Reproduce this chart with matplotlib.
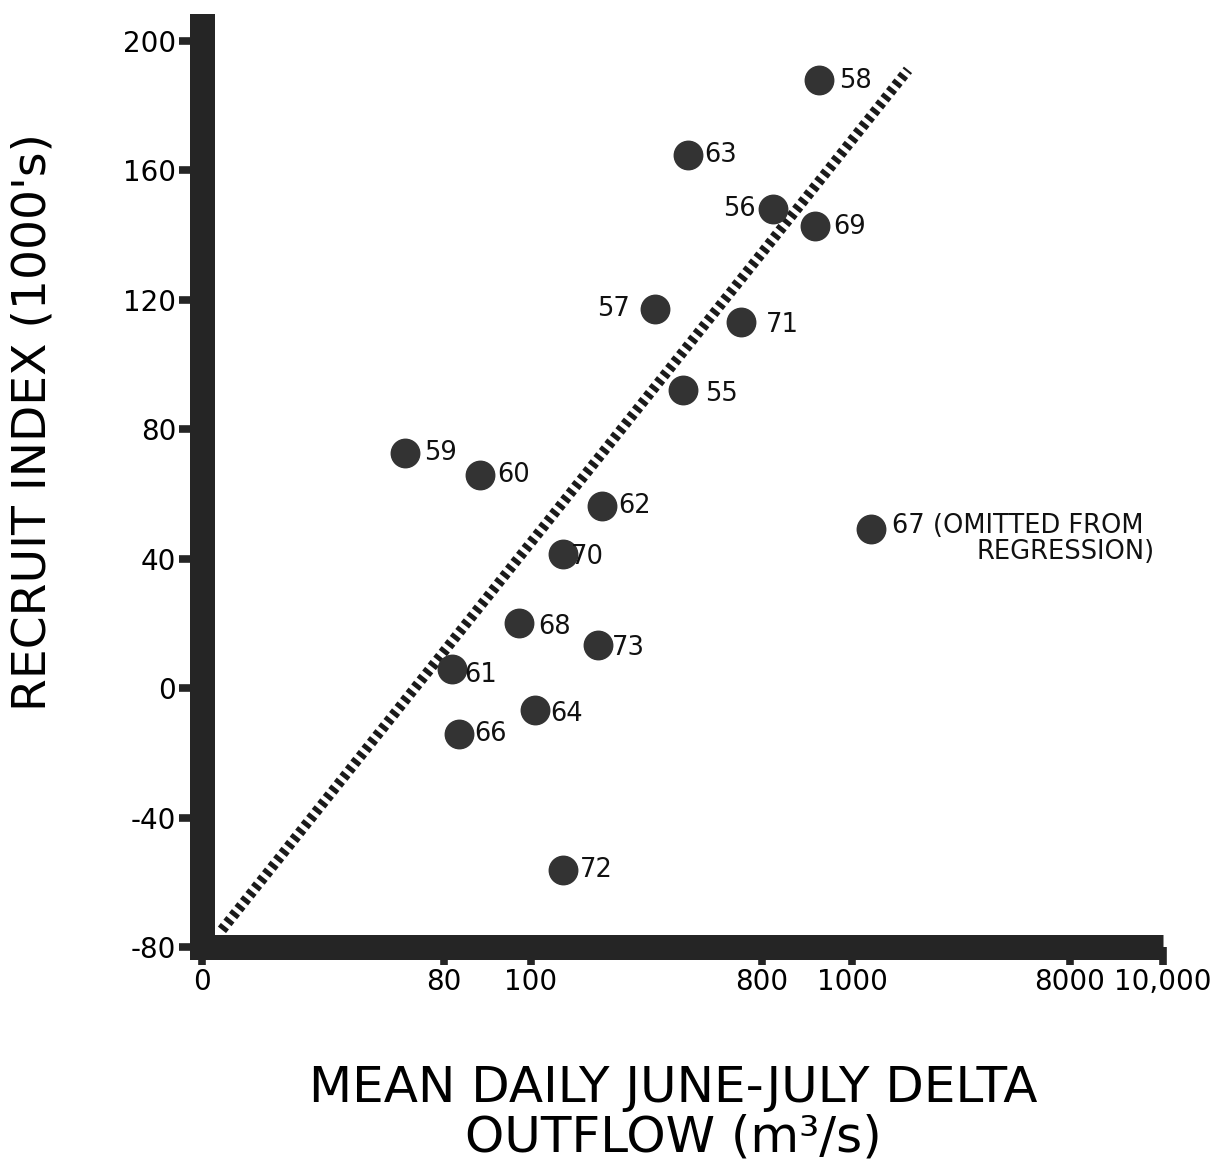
# Recruit index vs mean daily June-July delta outflow
import numpy as np
import matplotlib.pyplot as plt

# data
years = ["55", "56", "57", "58", "59", "60", "61", "62", "63",
         "64", "66", "68", "69", "70", "71", "72", "73"]
outflow = [561, 824, 476, 927, 67.1, 88.3, 81.8, 315, 576,
           112, 83.4, 97.2, 918, 197, 736, 197, 303]
recruit = [92.1, 148.1, 117.2, 187.9, 72.7, 65.9, 5.9, 56.3, 164.7,
           -6.8, -14.2, 20.1, 142.8, 41.4, 113.1, -56.2, 13.3]

# 1967 point, left out of the regression
omit_year = "67"
omit_flow = 1610
omit_recruit = 49.2

# regression line end points
reg_x = [6.6, 2798]
reg_y = [-74.7, 191.0]

xtick_vals = [0, 80, 100, 800, 1000, 8000, 10000]
xtick_labels = ["0", "80", "100", "800", "1000", "8000", "10,000"]
ytick_vals = [-80, -40, 0, 40, 80, 120, 160, 200]

# the hand drawn axis is not a true log axis, so map tick values piecewise
xtick_pos = [0, 242, 329, 560, 650, 868, 961]


def fwd(x):
    return np.interp(x, xtick_vals, xtick_pos)


def inv(u):
    return np.interp(u, xtick_pos, xtick_vals)


# label offsets in points (dx, dy, ha)
offsets = {
    "55": (16, -3, "left"), "56": (-12, 0, "right"), "57": (-18, 0, "right"),
    "58": (14, -1, "left"), "59": (14, 0, "left"), "60": (12, 0, "left"),
    "61": (9, -4, "left"), "62": (12, 0, "left"), "63": (12, 0, "left"),
    "64": (11, -3, "left"), "66": (11, 0, "left"), "68": (14, -3, "left"),
    "69": (13, -1, "left"), "70": (6, -2, "left"), "71": (18, -2, "left"),
    "72": (12, 0, "left"), "73": (10, -2, "left"),
}

ink = "#252525"
dot = "#333333"

fig = plt.figure(figsize=(12.22, 11.68), dpi=100)
ax = fig.add_axes([202 / 1222, 1 - 947 / 1168, 961 / 1222, 920.5 / 1168])

ax.set_xscale("function", functions=(fwd, inv))
ax.set_xlim(0, 10000)
ax.set_ylim(-80, 204.4)

ax.plot(reg_x, reg_y, color="#1a1a1a", lw=7.5, dashes=(0.45, 0.4),
        solid_capstyle="butt", zorder=2)

ax.plot(outflow, recruit, "o", ms=20.5, color=dot, mec=dot, zorder=3)
ax.plot([omit_flow], [omit_recruit], "o", ms=20.5, color=dot, mec=dot, zorder=3)

for yr, x, y in zip(years, outflow, recruit):
    dx, dy, ha = offsets[yr]
    ax.annotate(yr, (x, y), xytext=(dx, dy), textcoords="offset points",
                ha=ha, va="center", fontsize=18.5, color="#111111")

ax.annotate(omit_year + " (OMITTED FROM", (omit_flow, omit_recruit),
            xytext=(15, 2), textcoords="offset points",
            ha="left", va="center", fontsize=18.5, color="#111111")
ax.annotate("REGRESSION)", (omit_flow, omit_recruit),
            xytext=(76, -17), textcoords="offset points",
            ha="left", va="center", fontsize=18.5, color="#111111")

# heavy axis bars
for side in ["top", "right"]:
    ax.spines[side].set_visible(False)
for side in ["left", "bottom"]:
    ax.spines[side].set_linewidth(18)
    ax.spines[side].set_color(ink)
ax.spines["left"].set_capstyle("projecting")
ax.spines["bottom"].set_capstyle("butt")

ax.set_xticks(xtick_vals)
ax.set_xticklabels(xtick_labels)
ax.set_yticks(ytick_vals)
ax.set_yticklabels([str(v) for v in ytick_vals])
ax.xaxis.set_minor_locator(plt.NullLocator())
ax.tick_params(axis="y", direction="out", length=16.5, width=5.5,
               color=ink, labelsize=20, pad=2)
ax.tick_params(axis="x", direction="out", length=13, width=5.5,
               color=ink, labelsize=20, pad=2)

ax.set_ylabel("RECRUIT INDEX (1000's)", fontsize=34)
ax.yaxis.set_label_coords(-0.152, 0.57)
ax.set_xlabel("MEAN DAILY JUNE-JULY DELTA\nOUTFLOW (m³/s)", fontsize=36,
              linespacing=1.05)
ax.xaxis.set_label_coords(0.49, -0.127)

fig.savefig("out.png", dpi=100)
